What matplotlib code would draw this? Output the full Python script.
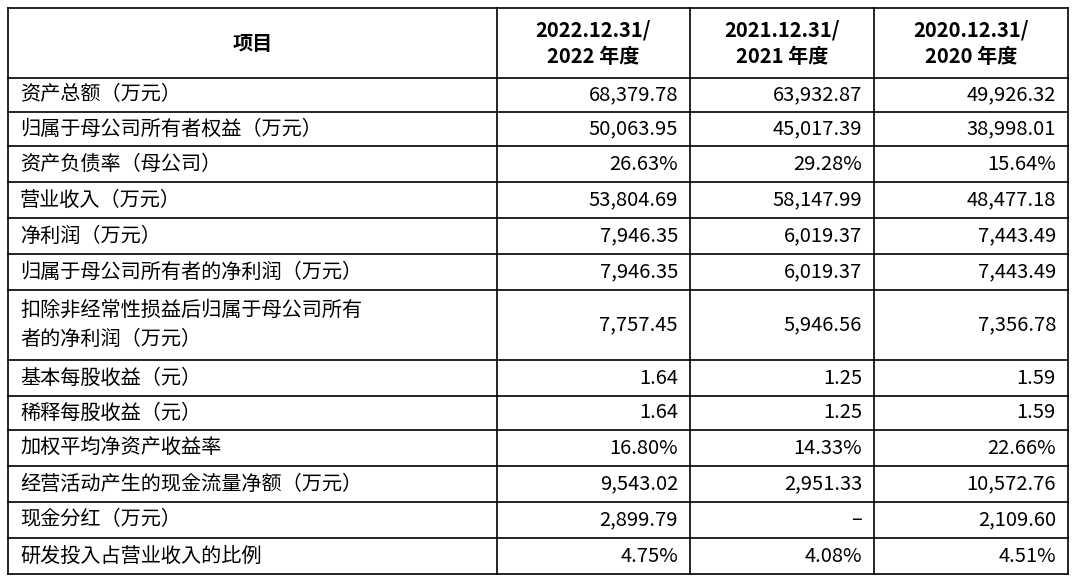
import matplotlib
matplotlib.use("Agg")
import matplotlib.pyplot as plt

plt.rcParams["font.family"] = ["Noto Sans CJK SC", "Noto Sans CJK JP", "Noto Sans CJK TC", "DejaVu Sans"]

headers = ["项目", "2022.12.31/\n2022 年度", "2021.12.31/\n2021 年度", "2020.12.31/\n2020 年度"]
items = ["资产总额（万元）", "归属于母公司所有者权益（万元）", "资产负债率（母公司）", "营业收入（万元）",
         "净利润（万元）", "归属于母公司所有者的净利润（万元）",
         "扣除非经常性损益后归属于母公司所有\n者的净利润（万元）",
         "基本每股收益（元）", "稀释每股收益（元）", "加权平均净资产收益率",
         "经营活动产生的现金流量净额（万元）", "现金分红（万元）", "研发投入占营业收入的比例"]
v2022 = ["68,379.78", "50,063.95", "26.63%", "53,804.69", "7,946.35", "7,946.35", "7,757.45",
         "1.64", "1.64", "16.80%", "9,543.02", "2,899.79", "4.75%"]
v2021 = ["63,932.87", "45,017.39", "29.28%", "58,147.99", "6,019.37", "6,019.37", "5,946.56",
         "1.25", "1.25", "14.33%", "2,951.33", "–", "4.08%"]
v2020 = ["49,926.32", "38,998.01", "15.64%", "48,477.18", "7,443.49", "7,443.49", "7,356.78",
         "1.59", "1.59", "22.66%", "10,572.76", "2,109.60", "4.51%"]

W, H = 1080, 582
fig = plt.figure(figsize=(W/100, H/100), dpi=100)
ax = fig.add_axes([0, 0, 1, 1])
ax.set_xlim(0, W); ax.set_ylim(H, 0); ax.axis("off")
cols = [8, 497, 690, 874, 1068]
rows = [8, 78, 112, 146, 182, 218, 254, 290, 360, 396, 430, 466, 502, 538, 574]

for x in cols:
    ax.plot([x, x], [rows[0], rows[-1]], color="black", lw=1.2)
for y in rows:
    ax.plot([cols[0], cols[-1]], [y, y], color="black", lw=1.2)

for j, h in enumerate(headers):
    ax.text((cols[j]+cols[j+1])/2, (rows[0]+rows[1])/2, h, ha="center", va="center",
            fontsize=14.5, fontweight="bold", linespacing=1.3)

for i, name in enumerate(items):
    yc = (rows[i+1]+rows[i+2])/2
    ax.text(cols[0]+12, yc, name, ha="left", va="center", fontsize=14.5, linespacing=1.5)
    for j, vals in enumerate([v2022, v2021, v2020]):
        ax.text(cols[j+2]-12, yc, vals[i], ha="right", va="center", fontsize=14.5)

fig.savefig("out.png", dpi=100, facecolor="white")
